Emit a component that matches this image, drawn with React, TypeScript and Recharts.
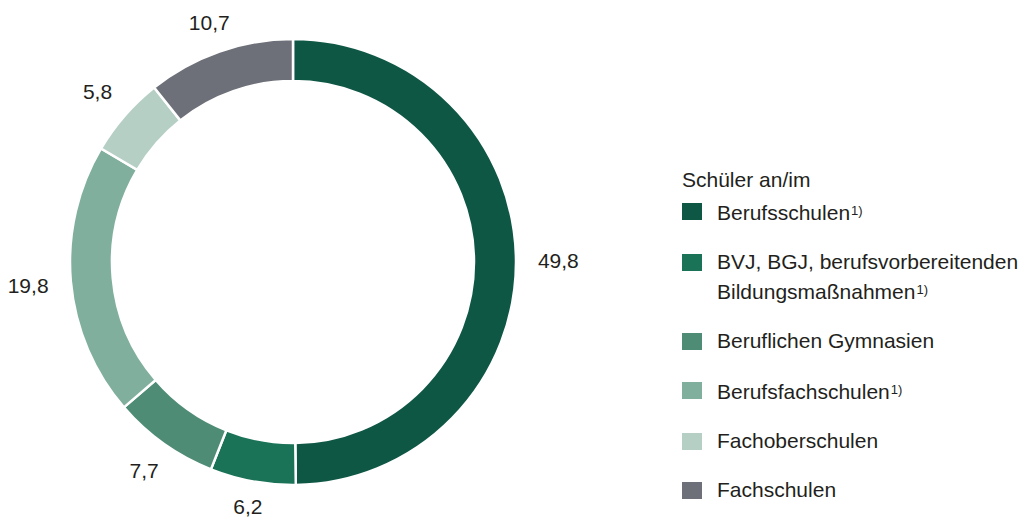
import React from "react";
import { PieChart, Pie, Cell, Legend } from "recharts";

const categories = [
  "Berufsschulen",
  "BVJ, BGJ, berufsvorbereitenden Bildungsmaßnahmen",
  "Beruflichen Gymnasien",
  "Berufsfachschulen",
  "Fachoberschulen",
  "Fachschulen",
];
const values = [49.8, 6.2, 7.7, 19.8, 5.8, 10.7];
const valueLabels = ["49,8", "6,2", "7,7", "19,8", "5,8", "10,7"];
const footnotes = ["1)", "1)", "", "1)", "", ""];
const colors = ["#0f5745", "#1a7257", "#4f8c76", "#80b09d", "#b5cfc5", "#6e7079"];
const legendTitle = "Schüler an/im";

const data = categories.map((name, i) => ({
  name,
  value: values[i],
  label: valueLabels[i],
  note: footnotes[i],
}));

const FONT = "'Liberation Sans', Arial, sans-serif";
const RAD = Math.PI / 180;

const renderLabel = (props: any) => {
  const { cx, cy, midAngle, outerRadius, index } = props;
  const text = valueLabels[index];
  let w = 0;
  for (const ch of text) w += ch === "," ? 5.8 : 11.6;
  const c = Math.cos(-midAngle * RAD);
  const s = Math.sin(-midAngle * RAD);
  const r = outerRadius + 14 + Math.abs(c) * (w / 2 + 8) + Math.abs(s) * 8;
  const x = cx + r * c;
  const y = cy + r * s;
  return (
    <text
      x={x}
      y={y}
      textAnchor="middle"
      dominantBaseline="central"
      fill="#231f20"
      fontSize={21}
      fontFamily={FONT}
    >
      {text}
    </text>
  );
};

const renderLegend = (props: any) => {
  const payload = props.payload || [];
  return (
    <div style={{ fontFamily: FONT, color: "#231f20", fontSize: 21 }}>
      <div style={{ lineHeight: "28px", marginBottom: 3 }}>{legendTitle}</div>
      {payload.map((p: any, i: number) => {
        const item = data[i];
        const name = item ? item.name : p.value;
        const parts =
          i === 1 ? ["BVJ, BGJ, berufsvorbereitenden", "Bildungsmaßnahmen"] : [name];
        return (
          <div
            key={i}
            style={{ display: "flex", alignItems: "flex-start", marginBottom: 21 }}
          >
            <div
              style={{
                width: 20,
                height: 17,
                marginTop: 6,
                background: colors[i],
                flexShrink: 0,
              }}
            />
            <div style={{ marginLeft: 15, lineHeight: "28px", whiteSpace: "nowrap" }}>
              {parts.map((t, j) => (
                <div key={j}>
                  {t}
                  {j === parts.length - 1 && item && item.note ? (
                    <span style={{ fontSize: 13, verticalAlign: "5px", marginLeft: 1 }}>
                      {item.note}
                    </span>
                  ) : null}
                </div>
              ))}
            </div>
          </div>
        );
      })}
    </div>
  );
};

export default function App() {
  return (
    <div style={{ position: "absolute", left: 0, top: 0, width: 1033, height: 523, background: "#fff" }}>
      <PieChart width={1033} height={523} margin={{ top: 0, right: 0, bottom: 0, left: 0 }}>
        <Pie
          data={data}
          dataKey="value"
          nameKey="name"
          cx={293}
          cy={262}
          innerRadius={181}
          outerRadius={223}
          startAngle={90}
          endAngle={-270}
          stroke="#ffffff"
          strokeWidth={2.5}
          label={renderLabel}
          labelLine={false}
          isAnimationActive={false}
        >
          {data.map((d, i) => (
            <Cell key={i} fill={colors[i]} />
          ))}
        </Pie>
        <Legend
          content={renderLegend}
          wrapperStyle={{ position: "absolute", left: 682, top: 166, width: 350 }}
        />
      </PieChart>
    </div>
  );
}
